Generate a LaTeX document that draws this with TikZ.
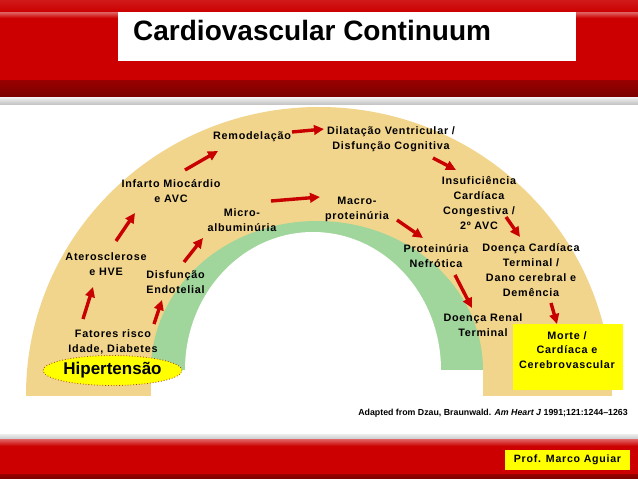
\documentclass[tikz,border=0pt]{standalone}
\usepackage{fontspec}
\setmainfont{Liberation Sans}
\newfontfamily\lblfont[LetterSpace=7]{Liberation Sans}
\usetikzlibrary{arrows.meta,shapes.geometric}
\definecolor{hdrred}{RGB}{204,0,0}
\definecolor{archtan}{RGB}{242,213,140}
\definecolor{archgreen}{RGB}{160,213,155}
\definecolor{arrred}{RGB}{200,0,0}
\definecolor{hyell}{RGB}{255,255,0}
\definecolor{dotred}{RGB}{170,60,20}
\begin{document}
\begin{tikzpicture}[x=1pt,y=-1pt,
 lbl/.style={font=\lblfont\bfseries\fontsize{10.8}{15}\selectfont, align=center, inner sep=0pt, text=black},
 arr/.style={draw=arrred, line width=3.4pt, -{Triangle[length=10pt,width=9.5pt]}},
 ybox/.style={fill=hyell, inner sep=0pt, draw=none},
]
\useasboundingbox (0,0) rectangle (638,479);
\fill[white] (0,0) rectangle (638,479);
% header band
\fill[hdrred] (0,0) rectangle (638,97);
\shade[top color=hdrred!90!white, bottom color=hdrred] (0,0) rectangle (638,12);
\shade[top color=hdrred!60!white, bottom color=hdrred] (0,12) rectangle (638,18);
\shade[top color=hdrred!75!black, bottom color=hdrred!60!black] (0,80) rectangle (638,97);
\shade[top color=gray!10, bottom color=gray!45] (0,97) rectangle (638,104);
\node[fill=white, minimum width=458, minimum height=49, anchor=north west, inner sep=0pt] (titlebox) at (118,12) {};
\node[anchor=base west, inner sep=0pt, font=\bfseries\fontsize{28}{30}\selectfont] (title) at (133,40.5) {Cardiovascular Continuum};
% footer band
\shade[top color=gray!15, bottom color=gray!40] (0,434) rectangle (638,439);
\fill[hdrred] (0,439) rectangle (638,479);
\shade[top color=hdrred!60!white, bottom color=hdrred] (0,439) rectangle (638,446);
\shade[top color=hdrred!75!black, bottom color=hdrred!60!black] (0,474) rectangle (638,479);
% arch
\begin{scope}
\clip (0,0) rectangle (638,395);
\fill[archtan] (319,395) ellipse [x radius=293, y radius=288];
\end{scope}
\begin{scope}
\clip (0,0) rectangle (638,370);
\fill[archgreen] (317,370) ellipse [x radius=166, y radius=149];
\fill[white] (313,370) ellipse [x radius=128, y radius=138];
\end{scope}
\fill[white] (151,370) rectangle (483,395.5);
% labels
\node[lbl] (remod) at (252,137) {Remodelação};
\node[lbl] (dilat) at (391,139.5) {Dilatação Ventricular /\\Disfunção Cognitiva};
\node[lbl] (infarto) at (171,191.5) {Infarto Miocárdio\\e AVC};
\node[lbl] (micro) at (242,220.5) {Micro-\\albuminúria};
\node[lbl] (macro) at (357,209) {Macro-\\proteinúria};
\node[lbl] (insuf) at (479,203.5) {Insuficiência\\Cardíaca\\Congestiva /\\2º AVC};
\node[lbl] (ateros) at (106,264.5) {Aterosclerose\\e HVE};
\node[lbl] (disf) at (175.5,282) {Disfunção\\Endotelial};
\node[lbl] (protnef) at (436,256.5) {Proteinúria\\Nefrótica};
\node[lbl] (doencac) at (531,270.5) {Doença Cardíaca\\Terminal /\\Dano cerebral e\\Demência};
\node[lbl] (renal) at (483,325) {Doença Renal\\Terminal};
\node[draw=dotred, dotted, line width=0.8pt, fill=hyell, ellipse, minimum width=121, minimum height=30, inner sep=0pt, font=\bfseries\fontsize{17}{18}\selectfont] (hiper) at (112.5,370.5) {Hipertensão};
\node[lbl] (fatores) at (113,341.5) {Fatores risco\\Idade, Diabetes};
\node[ybox, minimum width=110, minimum height=66, anchor=north west] (mortebox) at (513,324) {};
\node[lbl, font=\lblfont\bfseries\fontsize{10.8}{14.3}\selectfont] (morte) at (567,350) {Morte /\\Cardíaca e\\Cerebrovascular};
\node[anchor=east, inner sep=0pt, font=\bfseries\fontsize{8.8}{10}\selectfont] (ref) at (628,413) {Adapted from Dzau, Braunwald. \textit{Am Heart J} 1991;121:1244–1263};
\node[ybox, minimum width=125, minimum height=20, font=\lblfont\bfseries\fontsize{10.6}{13}\selectfont] (prof) at (567.5,460) {Prof. Marco Aguiar};
% arrow end points
\coordinate (a1s) at (83,319);   \coordinate (a1e) at (93,287);
\coordinate (a2s) at (154,324);  \coordinate (a2e) at (162,300);
\coordinate (a3s) at (116,241);  \coordinate (a3e) at (135,213);
\coordinate (a4s) at (184,262);  \coordinate (a4e) at (203,238);
\coordinate (a5s) at (185,170);  \coordinate (a5e) at (218,151);
\coordinate (a6s) at (292,132);  \coordinate (a6e) at (324,129);
\coordinate (a7s) at (271,201);  \coordinate (a7e) at (320,197);
\coordinate (a8s) at (433,158);  \coordinate (a8e) at (456,170);
\coordinate (a9s) at (397,220);  \coordinate (a9e) at (423,238);
\coordinate (a10s) at (506,217); \coordinate (a10e) at (520,237);
\coordinate (a11s) at (455,275); \coordinate (a11e) at (472,308);
\coordinate (a12s) at (551,303); \coordinate (a12e) at (557,324);
\draw[arr] (a1s) -- (a1e);
\draw[arr] (a2s) -- (a2e);
\draw[arr] (a3s) -- (a3e);
\draw[arr] (a4s) -- (a4e);
\draw[arr] (a5s) -- (a5e);
\draw[arr] (a6s) -- (a6e);
\draw[arr] (a7s) -- (a7e);
\draw[arr] (a8s) -- (a8e);
\draw[arr] (a9s) -- (a9e);
\draw[arr] (a10s) -- (a10e);
\draw[arr] (a11s) -- (a11e);
\draw[arr] (a12s) -- (a12e);
\end{tikzpicture}
\end{document}
